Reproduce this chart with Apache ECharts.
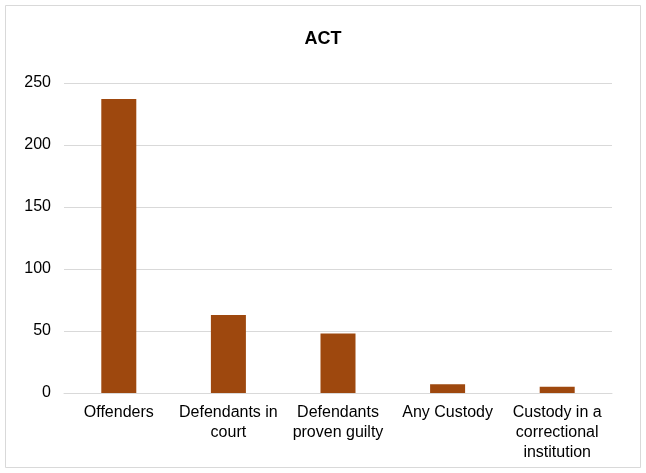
<!DOCTYPE html>
<html>
<head>
<meta charset="utf-8">
<script src="https://cdn.jsdelivr.net/npm/echarts@6/dist/echarts.min.js"></script>
<style>
  html, body { margin: 0; padding: 0; background: #fff; }
  #chart { width: 646px; height: 473px; }
</style>
</head>
<body>
<div id="chart"></div>
<script>
const categories = [
  'Offenders',
  'Defendants in\ncourt',
  'Defendants\nproven guilty',
  'Any Custody',
  'Custody in a\ncorrectional\ninstitution'
];
const counts = [237, 63, 48, 7, 5];
const yTicks = { min: 0, max: 250, interval: 50 };

const chart = echarts.init(document.getElementById('chart'), null, { renderer: 'canvas' });
chart.setOption({
  animation: false,
  backgroundColor: '#ffffff',
  graphic: [{
    type: 'rect',
    shape: { x: 5.5, y: 5.5, width: 635, height: 462 },
    style: { fill: 'none', stroke: '#d9d9d9', lineWidth: 1 }
  }],
  title: {
    text: 'ACT',
    left: 'center',
    top: 25,
    textStyle: { fontFamily: 'Liberation Sans', fontWeight: 'bold', fontSize: 18, color: '#000000' }
  },
  grid: { left: 64, right: 34, top: 83, bottom: 80, containLabel: false },
  xAxis: {
    type: 'category',
    data: categories,
    axisTick: { show: false },
    axisLine: { lineStyle: { color: '#d9d9d9', width: 1 } },
    axisLabel: {
      interval: 0,
      margin: 10,
      fontFamily: 'Liberation Sans',
      fontSize: 16,
      lineHeight: 20,
      color: '#000000'
    }
  },
  yAxis: {
    type: 'value',
    min: yTicks.min,
    max: yTicks.max,
    interval: yTicks.interval,
    axisLine: { show: false },
    axisTick: { show: false },
    splitLine: { lineStyle: { color: '#d9d9d9', width: 1 } },
    axisLabel: {
      margin: 13,
      padding: [2, 0, 0, 0],
      fontFamily: 'Liberation Sans',
      fontSize: 16,
      color: '#000000'
    }
  },
  series: [{
    type: 'bar',
    data: counts,
    barWidth: 35,
    itemStyle: { color: '#9E480E' }
  }]
});
</script>
</body>
</html>
